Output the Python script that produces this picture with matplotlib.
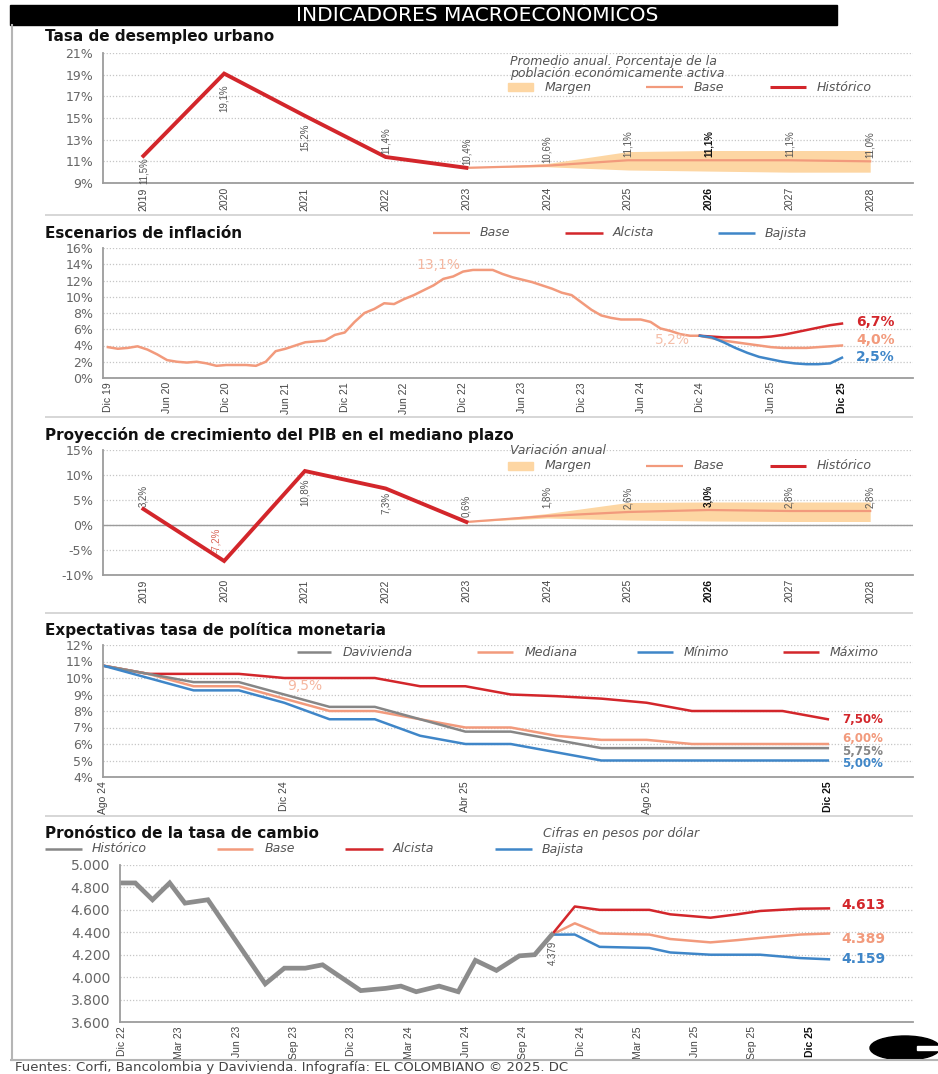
import matplotlib
matplotlib.use('Agg')
import matplotlib.pyplot as plt
import numpy as np
from matplotlib.lines import Line2D
from matplotlib.patches import Rectangle, Ellipse

W, H = 938, 1074

RED = '#d3262b'
SALMON = '#f29a7c'
BAND = '#fdd6a3'
BLUE = '#3f86c8'
GRAY = '#868686'
TXT = '#555555'
GRID = '#c6c6c6'
AXIS = '#9c9c9c'
NARROW = ['Liberation Sans', 'DejaVu Sans']

# ---- desempleo urbano (%) ----
years = [2019, 2020, 2021, 2022, 2023, 2024, 2025, 2026, 2027, 2028]
unemp_hist = [11.5, 19.1, 15.2, 11.4, 10.4]            # 2019-2023
unemp_base = [10.4, 10.6, 11.1, 11.1, 11.1, 11.0]      # 2023-2028
unemp_hi = [10.4, 10.8, 11.9, 12.0, 12.0, 12.0]
unemp_lo = [10.4, 10.5, 10.2, 10.1, 10.0, 10.0]
unemp_labels = ['11,5%', '19,1%', '15,2%', '11,4%', '10,4%', '10,6%', '11,1%', '11,1%', '11,1%', '11,0%']

# ---- inflacion anual (%), mensual desde Dic 19 hasta Dic 24 ----
infl_hist = [3.8, 3.6, 3.7, 3.9, 3.5, 2.9, 2.2, 2.0, 1.9, 2.0, 1.8, 1.5, 1.6,
             1.6, 1.6, 1.5, 2.0, 3.3, 3.6, 4.0, 4.4, 4.5, 4.6, 5.3, 5.6,
             6.9, 8.0, 8.5, 9.2, 9.1, 9.7, 10.2, 10.8, 11.4, 12.2, 12.5, 13.1,
             13.3, 13.3, 13.3, 12.8, 12.4, 12.1, 11.8, 11.4, 11.0, 10.5, 10.2, 9.3,
             8.4, 7.7, 7.4, 7.2, 7.2, 7.2, 6.9, 6.1, 5.8, 5.4, 5.2, 5.2]
# escenarios Dic 24 - Dic 25
infl_base = [5.2, 4.9, 4.6, 4.4, 4.2, 4.0, 3.8, 3.7, 3.7, 3.7, 3.8, 3.9, 4.0]
infl_alc = [5.2, 5.1, 5.0, 5.0, 5.0, 5.0, 5.1, 5.3, 5.6, 5.9, 6.2, 6.5, 6.7]
infl_baj = [5.2, 5.0, 4.4, 3.7, 3.1, 2.6, 2.3, 2.0, 1.8, 1.7, 1.7, 1.8, 2.5]
infl_ticks = ['Dic 19', 'Jun 20', 'Dic 20', 'Jun 21', 'Dic 21', 'Jun 22', 'Dic 22',
              'Jun 23', 'Dic 23', 'Jun 24', 'Dic 24', 'Jun 25', 'Dic 25']

# ---- PIB, variacion anual (%) ----
gdp_hist = [3.2, -7.2, 10.8, 7.3, 0.6]                 # 2019-2023
gdp_base = [0.6, 1.8, 2.6, 3.0, 2.8, 2.8]              # 2023-2028
gdp_hi = [0.6, 2.3, 4.5, 4.6, 4.6, 4.6]
gdp_lo = [0.6, 1.4, 1.0, 0.8, 0.7, 0.7]
gdp_labels = ['3,2%', '-7,2%', '10,8%', '7,3%', '0,6%', '1,8%', '2,6%', '3,0%', '2,8%', '2,8%']

# ---- tasa de politica monetaria (%), mensual Ago 24 - Dic 25 ----
pol_davi = [10.75, 10.25, 9.75, 9.75, 9.0, 8.25, 8.25, 7.5, 6.75, 6.75, 6.25, 5.75, 5.75, 5.75, 5.75, 5.75, 5.75]
pol_med = [10.75, 10.25, 9.5, 9.5, 8.75, 8.0, 8.0, 7.5, 7.0, 7.0, 6.5, 6.25, 6.25, 6.0, 6.0, 6.0, 6.0]
pol_min = [10.75, 10.0, 9.25, 9.25, 8.5, 7.5, 7.5, 6.5, 6.0, 6.0, 5.5, 5.0, 5.0, 5.0, 5.0, 5.0, 5.0]
pol_max = [10.75, 10.25, 10.25, 10.25, 10.0, 10.0, 10.0, 9.5, 9.5, 9.0, 8.9, 8.75, 8.5, 8.0, 8.0, 8.0, 7.5]
pol_ticks = ['Ago 24', 'Dic 24', 'Abr 25', 'Ago 25', 'Dic 25']

# ---- tasa de cambio (pesos por dolar), meses desde Dic 22 ----
fx_hist_t = [0, 0.7, 1.6, 2.5, 3.3, 4.5, 7.5, 8.5, 9.6, 10.5, 12.5, 13.8, 14.6,
             15.4, 16.6, 17.6, 18.5, 19.6, 20.8, 21.6, 22.5]
fx_hist = [4840, 4840, 4690, 4840, 4660, 4690, 3940, 4080, 4080, 4110, 3880, 3900, 3920,
           3870, 3920, 3870, 4150, 4060, 4190, 4200, 4379]
fx_fc_t = [22.5, 23.7, 25.0, 27.6, 28.7, 30.8, 32.2, 33.4, 35.5, 37.0]
fx_alc = [4379, 4630, 4600, 4600, 4560, 4530, 4560, 4590, 4610, 4613]
fx_base = [4379, 4480, 4390, 4380, 4340, 4310, 4330, 4350, 4380, 4389]
fx_baj = [4379, 4380, 4270, 4260, 4220, 4200, 4200, 4200, 4170, 4159]
fx_ticks = ['Dic 22', 'Mar 23', 'Jun 23', 'Sep 23', 'Dic 23', 'Mar 24', 'Jun 24',
            'Sep 24', 'Dic 24', 'Mar 25', 'Jun 25', 'Sep 25', 'Dic 25']


fig = plt.figure(figsize=(W / 100, H / 100), dpi=100)


def fx_(x):
    return x / W


def fy_(y):
    return 1 - y / H


def add_ax(l, t, r, b):
    return fig.add_axes([l / W, 1 - b / H, (r - l) / W, (b - t) / H])


def ftext(x, y, s, **kw):
    kw.setdefault('va', 'center')
    return fig.text(fx_(x), fy_(y), s, **kw)


def fline(x0, x1, y, color, lw):
    fig.add_artist(Line2D([fx_(x0), fx_(x1)], [fy_(y), fy_(y)], color=color, lw=lw,
                          transform=fig.transFigure, solid_capstyle='butt'))


def style_ax(ax, yticks, ylabels):
    ax.patch.set_alpha(0)
    for s in ['top', 'right']:
        ax.spines[s].set_visible(False)
    for s in ['left', 'bottom']:
        ax.spines[s].set_color(AXIS)
        ax.spines[s].set_linewidth(1.3)
    ax.set_yticks(yticks, ylabels, fontsize=9, color='#666666')
    ax.tick_params(axis='both', length=0)
    ax.tick_params(axis='y', pad=7)
    ax.tick_params(axis='x', pad=3)
    ax.grid(axis='y', color=GRID, linestyle=(0, (1, 1.5)), lw=0.9)
    ax.set_axisbelow(True)


def xlabels(ax, ticks, labels, bold_idx):
    ax.set_xticks(ticks, labels, rotation=90, fontsize=7.5, family=NARROW, color='#444444')
    ax.get_xticklabels()[bold_idx].set_fontweight('bold')
    ax.get_xticklabels()[bold_idx].set_color('#111111')


# ---------------- encabezado y marco ----------------
fig.add_artist(Rectangle((fx_(10), fy_(25)), (837 - 10) / W, 20 / H, color='black',
                         transform=fig.transFigure))
ftext(477, 15.5, 'INDICADORES MACROECONÓMICOS', color='white', fontsize=14.5, ha='center')
fig.add_artist(Line2D([fx_(12), fx_(12)], [fy_(25), fy_(1060)], color='#b5b5b5', lw=1.5,
                      transform=fig.transFigure))
fline(10, 938, 1060, '#b5b5b5', 1.5)
for ysep in [215, 417, 613, 816]:
    fline(45, 913, ysep, '#cfcfcf', 1.2)

# ---------------- 1. desempleo ----------------
ftext(45, 37, 'Tasa de desempleo urbano', fontsize=11, fontweight='bold', color='#111111')
ax1 = add_ax(103, 53, 913, 183)
style_ax(ax1, range(9, 22, 2), [f'{v}%' for v in range(9, 22, 2)])
ax1.set_xlim(2018.5, 2028.53)
ax1.set_ylim(9, 21)
ax1.fill_between(years[4:], unemp_lo, unemp_hi, color=BAND, lw=0)
ax1.plot(years[4:], unemp_base, color=SALMON, lw=1.6)
ax1.plot(years[:5], unemp_hist, color=RED, lw=2.8, solid_joinstyle='miter')
u_vals = unemp_hist + unemp_base[1:]
u_dy = [-1, -11, -8, 3, 3, 3, 3, 3, 3, 3]
for i, (yr, v, lab) in enumerate(zip(years, u_vals, unemp_labels)):
    ax1.annotate(lab, (yr, v), xytext=(0, u_dy[i]), textcoords='offset pixels',
                 rotation=90, ha='center', va='top' if u_dy[i] < 0 else 'bottom',
                 fontsize=7, family=NARROW, color='#111111' if yr == 2026 else '#555555',
                 fontweight='bold' if yr == 2026 else 'normal')
xlabels(ax1, years, [str(y) for y in years], 7)

ftext(510, 67, 'Promedio anual. Porcentaje de la\npoblación económicamente activa',
      fontsize=9, style='italic', color=TXT, linespacing=0.9)
fig.add_artist(Rectangle((fx_(508), fy_(91)), 25 / W, 8 / H, color=BAND, transform=fig.transFigure))
ftext(545, 87, 'Margen', fontsize=9, style='italic', color=TXT)
fline(646, 683, 87, SALMON, 1.6)
ftext(694, 87, 'Base', fontsize=9, style='italic', color=TXT)
fline(770, 806, 87, RED, 2.2)
ftext(817, 87, 'Histórico', fontsize=9, style='italic', color=TXT)

# ---------------- 2. inflacion ----------------
K = 1.2


def fwd(x):
    x = np.asarray(x, dtype=float)
    return np.where(x <= 60, x, 60 + (x - 60) * K)


def inv(y):
    y = np.asarray(y, dtype=float)
    return np.where(y <= 60, y, 60 + (y - 60) / K)


ftext(45, 233, 'Escenarios de inflación', fontsize=11, fontweight='bold', color='#111111')
fline(433, 470, 233, SALMON, 1.6)
ftext(480, 233, 'Base', fontsize=9, style='italic', color=TXT)
fline(565, 603, 233, RED, 1.8)
ftext(613, 233, 'Alcista', fontsize=9, style='italic', color=TXT)
fline(718, 755, 233, BLUE, 1.8)
ftext(765, 233, 'Bajista', fontsize=9, style='italic', color=TXT)

ax2 = add_ax(103, 248, 913, 378)
style_ax(ax2, range(0, 17, 2), [f'{v}%' for v in range(0, 17, 2)])
ax2.set_xscale('function', functions=(fwd, inv))
ax2.set_xlim(-0.5, 78)
ax2.set_ylim(0, 16)
t_hist = np.arange(len(infl_hist))
t_fc = np.arange(len(infl_hist) - 1, len(infl_hist) - 1 + len(infl_base))
ax2.plot(t_hist, infl_hist, color=SALMON, lw=1.8)
ax2.plot(t_fc, infl_base, color=SALMON, lw=1.8)
ax2.plot(t_fc, infl_alc, color=RED, lw=1.8)
ax2.plot(t_fc, infl_baj, color=BLUE, lw=1.8)
xlabels(ax2, np.arange(0, 73, 6), infl_ticks, 12)
ax2.annotate('13,1%', (36, infl_hist[36]), xytext=(-25, 7), textcoords='offset pixels',
             ha='center', va='center', fontsize=10, color='#f5b7a0')
ax2.annotate('5,2%', (t_fc[0], infl_base[0]), xytext=(-10, -4), textcoords='offset pixels',
             ha='right', va='center', fontsize=10, color='#f5bfa9')
for vals, col, lab, dy in [(infl_alc, RED, '6,7%', 2), (infl_base, SALMON, '4,0%', 5),
                           (infl_baj, BLUE, '2,5%', 1)]:
    ax2.annotate(lab, (t_fc[-1], vals[-1]), xytext=(14, dy), textcoords='offset pixels',
                 ha='left', va='center', fontsize=10, fontweight='bold', color=col)

# ---------------- 3. PIB ----------------
ftext(45, 435, 'Proyección de crecimiento del PIB en el mediano plazo', fontsize=11,
      fontweight='bold', color='#111111')
ax3 = add_ax(103, 450, 913, 575)
style_ax(ax3, range(-10, 16, 5), [f'{v}%' for v in range(-10, 16, 5)])
ax3.set_xlim(2018.5, 2028.53)
ax3.set_ylim(-10, 15)
ax3.axhline(0, color=AXIS, lw=1.0, zorder=1)
ax3.fill_between(years[4:], gdp_lo, gdp_hi, color=BAND, lw=0)
ax3.plot(years[4:], gdp_base, color=SALMON, lw=1.6)
ax3.plot(years[:5], gdp_hist, color=RED, lw=2.8, solid_joinstyle='miter')
g_vals = gdp_hist + gdp_base[1:]
g_off = [(0, 2), (-8, 8), (0, -7), (0, -3), (0, 5), (0, 8), (0, 3), (0, 3), (0, 3), (0, 3)]
for i, (yr, v, lab) in enumerate(zip(years, g_vals, gdp_labels)):
    dx, dy = g_off[i]
    col = '#111111' if yr == 2026 else ('#d9685a' if v < 0 else '#555555')
    ax3.annotate(lab, (yr, v), xytext=(dx, dy), textcoords='offset pixels',
                 rotation=90, ha='center', va='top' if dy < 0 else 'bottom',
                 fontsize=7, family=NARROW, color=col,
                 fontweight='bold' if yr == 2026 else 'normal')
xlabels(ax3, years, [str(y) for y in years], 7)

ftext(510, 451, 'Variación anual', fontsize=9, style='italic', color=TXT)
fig.add_artist(Rectangle((fx_(508), fy_(470)), 25 / W, 8 / H, color=BAND, transform=fig.transFigure))
ftext(545, 466, 'Margen', fontsize=9, style='italic', color=TXT)
fline(646, 683, 466, SALMON, 1.6)
ftext(694, 466, 'Base', fontsize=9, style='italic', color=TXT)
fline(770, 806, 466, RED, 2.2)
ftext(817, 466, 'Histórico', fontsize=9, style='italic', color=TXT)

# ---------------- 4. politica monetaria ----------------
ftext(45, 630, 'Expectativas tasa de política monetaria', fontsize=11, fontweight='bold',
      color='#111111')
fline(297, 331, 652, GRAY, 1.8)
ftext(343, 652, 'Davivienda', fontsize=9, style='italic', color=TXT)
fline(477, 513, 652, SALMON, 1.8)
ftext(525, 652, 'Mediana', fontsize=9, style='italic', color=TXT)
fline(637, 673, 652, BLUE, 1.8)
ftext(684, 652, 'Mínimo', fontsize=9, style='italic', color=TXT)
fline(783, 819, 652, RED, 1.8)
ftext(830, 652, 'Máximo', fontsize=9, style='italic', color=TXT)

ax4 = add_ax(103, 645, 913, 777)
style_ax(ax4, range(4, 13), [f'{v}%' for v in range(4, 13)])
ax4.set_xlim(0, 17.88)
ax4.set_ylim(4, 12)
m = np.arange(len(pol_med))
ax4.plot(m, pol_max, color=RED, lw=1.8)
ax4.plot(m, pol_med, color=SALMON, lw=1.8)
ax4.plot(m, pol_davi, color=GRAY, lw=1.8)
ax4.plot(m, pol_min, color=BLUE, lw=1.8)
xlabels(ax4, [0, 4, 8, 12, 16], pol_ticks, 4)
ax4.annotate('9,5%', (m[3], pol_med[3]), xytext=(66, 0), textcoords='offset pixels',
             ha='center', va='center', fontsize=10, color='#f5b7a0')
for vals, col, lab, dy in [(pol_max, RED, '7,50%', 0), (pol_med, SALMON, '6,00%', 5),
                           (pol_davi, GRAY, '5,75%', -3.5), (pol_min, BLUE, '5,00%', -3)]:
    ax4.annotate(lab, (m[-1], vals[-1]), xytext=(14, dy), textcoords='offset pixels',
                 ha='left', va='center', fontsize=8.5, fontweight='bold', color=col)

# ---------------- 5. tasa de cambio ----------------
ftext(45, 833, 'Pronóstico de la tasa de cambio', fontsize=11, fontweight='bold',
      color='#111111')
ftext(543, 833, 'Cifras en pesos por dólar', fontsize=9, style='italic', color=TXT)
fline(45, 82, 849, GRAY, 1.8)
ftext(92, 849, 'Histórico', fontsize=9, style='italic', color=TXT)
fline(217, 253, 849, SALMON, 1.8)
ftext(265, 849, 'Base', fontsize=9, style='italic', color=TXT)
fline(345, 383, 849, RED, 1.8)
ftext(393, 849, 'Alcista', fontsize=9, style='italic', color=TXT)
fline(495, 532, 849, BLUE, 1.8)
ftext(542, 849, 'Bajista', fontsize=9, style='italic', color=TXT)

ax5 = add_ax(120, 865, 913, 1022)
fx_yt = list(range(3600, 5001, 200))
style_ax(ax5, fx_yt, [f'{v:,}'.replace(',', '.') for v in fx_yt])
ax5.tick_params(axis='y', labelsize=10)
ax5.set_xlim(-0.1, 41.4)
ax5.set_ylim(3600, 5000)
ax5.plot(fx_fc_t, fx_base, color=SALMON, lw=1.8)
ax5.plot(fx_fc_t, fx_baj, color=BLUE, lw=1.8)
ax5.plot(fx_fc_t, fx_alc, color=RED, lw=1.8)
ax5.plot(fx_hist_t, fx_hist, color='#8c8c8c', lw=3.4, solid_joinstyle='miter')
xlabels(ax5, np.arange(0, 37, 3), fx_ticks, 12)
ax5.annotate('4.379', (fx_hist_t[-1], fx_hist[-1]), xytext=(1, -6), textcoords='offset pixels',
             rotation=90, ha='center', va='top', fontsize=7, family=NARROW, color='#555555')
for vals, col, lab, dy in [(fx_alc, RED, '4.613', 3), (fx_base, SALMON, '4.389', -5),
                           (fx_baj, BLUE, '4.159', 0)]:
    ax5.annotate(lab, (fx_fc_t[-1], vals[-1]), xytext=(12, dy), textcoords='offset pixels',
                 ha='left', va='center', fontsize=10, fontweight='bold', color=col)

# ---------------- pie ----------------
ftext(15, 1067, 'Fuentes: Corfi, Bancolombia y Davivienda. Infografía: EL COLOMBIANO © 2025. DC',
      fontsize=9.5, color='#444444')
fig.add_artist(Ellipse((fx_(905), fy_(1048)), 70 / W, 24 / H, color='black',
                       transform=fig.transFigure))
fig.add_artist(Rectangle((fx_(917), fy_(1050)), 21 / W, 4 / H, color='white',
                         transform=fig.transFigure))

fig.savefig('out.png', dpi=100)
